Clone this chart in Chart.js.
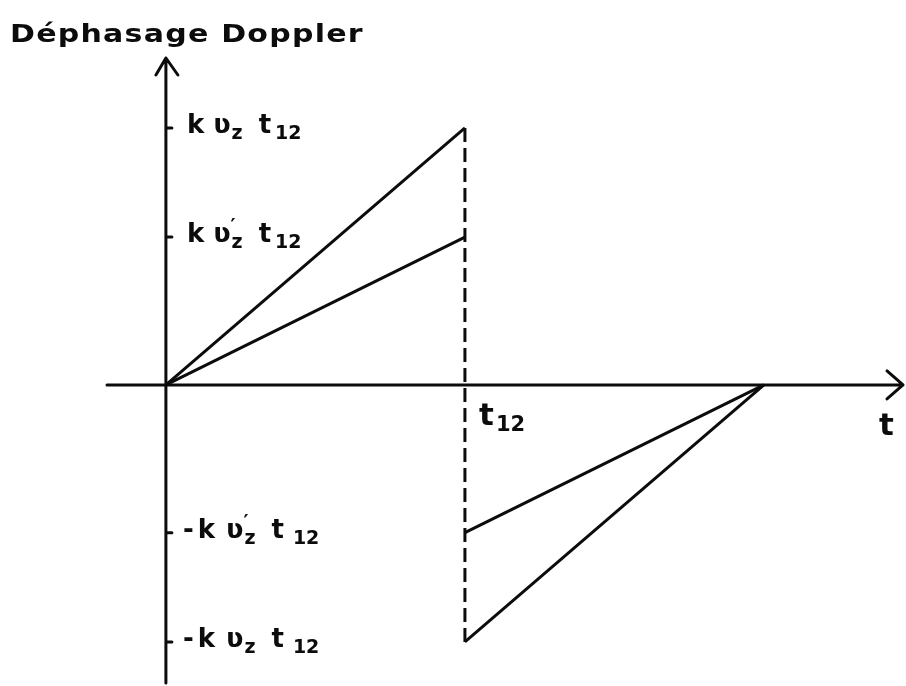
<!DOCTYPE html>
<html>
<head>
<meta charset="utf-8">
<script src="https://cdn.jsdelivr.net/npm/chart.js@4"></script>
<style>
  html, body { margin: 0; padding: 0; background: #fff; }
</style>
</head>
<body>
<canvas id="myChart" width="906" height="686"></canvas>
<script>
// time in units of t12, phase in units of k*v_z*t12
const tRange = [-0.197, 2.465];
const phaseRange = [-1.16, 1.272];

const kvz = 1;
const kvzPrime = 0.575;

const rampFast = [{ x: 0, y: 0 }, { x: 1, y: kvz }];
const rampSlow = [{ x: 0, y: 0 }, { x: 1, y: kvzPrime }];
const backSlow = [{ x: 1, y: -kvzPrime }, { x: 2, y: 0 }];
const backFast = [{ x: 1, y: -kvz }, { x: 2, y: 0 }];
const jump = [{ x: 1, y: kvz }, { x: 1, y: -kvz }];

const phaseTicks = [kvz, kvzPrime, -kvzPrime, -kvz];
// label pieces: [text, kind, gap before] ; kind 'n' normal, 's' subscript, 'a' accent (no advance)
const phaseTickLabels = [
    [['k', 'n', 0], ['ʋ', 'n', 9], ['z', 's', 0], ['t', 'n', 16], ['12', 's', 3]],
    [['k', 'n', 0], ['ʋ', 'n', 9], ['′', 'a', 0], ['z', 's', 0], ['t', 'n', 16], ['12', 's', 3]],
    [['-', 'n', -4], ['k', 'n', 4], ['ʋ', 'n', 11], ['′', 'a', 0], ['z', 's', 0], ['t', 'n', 16], ['12', 's', 8]],
    [['-', 'n', -4], ['k', 'n', 4], ['ʋ', 'n', 11], ['z', 's', 0], ['t', 'n', 16], ['12', 's', 8]]
];

const ink = '#0c0c0c';

function drawPieces(ctx, pieces, x, y) {
    const big = 'bold 26px "DejaVu Sans"';
    const small = 'bold 19px "DejaVu Sans"';
    pieces.forEach(([txt, kind, gap]) => {
        x += gap;
        if (kind === 's') {
            ctx.font = small;
            ctx.fillText(txt, x + 1, y + 6);
            x += ctx.measureText(txt).width + 1;
        } else if (kind === 'a') {
            ctx.font = small;
            ctx.fillText(txt, x, y - 10);
        } else {
            ctx.font = big;
            ctx.fillText(txt, x, y);
            x += ctx.measureText(txt).width;
        }
    });
}

const sketchAxes = {
    id: 'sketchAxes',
    beforeDatasetsDraw(chart) {
        const { ctx, scales: { x, y } } = chart;
        const x0 = x.getPixelForValue(0);
        const y0 = y.getPixelForValue(0);

        ctx.save();
        ctx.strokeStyle = ink;
        ctx.fillStyle = ink;
        ctx.lineWidth = 3;
        ctx.lineCap = 'round';
        ctx.lineJoin = 'round';

        ctx.beginPath();
        ctx.moveTo(x.left, y0);
        ctx.lineTo(x.right, y0);
        ctx.moveTo(x0, y.top);
        ctx.lineTo(x0, y.bottom);
        // arrow heads
        ctx.moveTo(x.right - 16, y0 - 14);
        ctx.lineTo(x.right, y0);
        ctx.lineTo(x.right - 16, y0 + 14);
        ctx.moveTo(x0 - 10, y.top + 17);
        ctx.lineTo(x0, y.top);
        ctx.lineTo(x0 + 12, y.top + 17);
        // small ticks on the phase axis
        phaseTicks.forEach(v => {
            const py = y.getPixelForValue(v);
            ctx.moveTo(x0, py);
            ctx.lineTo(x0 + 6, py);
        });
        ctx.stroke();

        ctx.textBaseline = 'alphabetic';
        phaseTicks.forEach((v, i) => {
            const py = y.getPixelForValue(v);
            drawPieces(ctx, phaseTickLabels[i], x0 + 21, py + 5);
        });

        // time axis labels
        ctx.font = 'bold 31px "DejaVu Sans"';
        ctx.fillText('t', x.getPixelForValue(1) + 14, y0 + 40);
        ctx.font = 'bold 21px "DejaVu Sans"';
        ctx.fillText('12', x.getPixelForValue(1) + 31, y0 + 46);
        ctx.font = 'bold 31px "DejaVu Sans"';
        ctx.fillText('t', x.right - 24, y0 + 50);

        // title
        ctx.translate(10, 42);
        ctx.scale(1.25, 1);
        ctx.font = 'bold 24px "DejaVu Sans"';
        ctx.letterSpacing = '1px';
        ctx.fillText('Déphasage Doppler', 0, 0);
        ctx.restore();
    }
};

function lineSet(label, data, dash) {
    return {
        label: label,
        data: data,
        borderColor: ink,
        borderWidth: 3,
        borderDash: dash || [],
        pointRadius: 0,
        fill: false,
        tension: 0
    };
}

new Chart(document.getElementById('myChart'), {
    type: 'line',
    data: {
        datasets: [
            lineSet('k vz t', rampFast),
            lineSet("k vz' t", rampSlow),
            lineSet("-k vz' (t12 - t)", backSlow),
            lineSet('-k vz (t12 - t)', backFast),
            lineSet('t12', jump, [14, 6])
        ]
    },
    options: {
        responsive: false,
        animation: false,
        layout: { padding: { left: 107, right: 3, top: 58, bottom: 3 } },
        plugins: { legend: { display: false }, tooltip: { enabled: false } },
        scales: {
            x: { type: 'linear', min: tRange[0], max: tRange[1], display: false },
            y: { type: 'linear', min: phaseRange[0], max: phaseRange[1], display: false }
        }
    },
    plugins: [sketchAxes]
});
</script>
</body>
</html>
